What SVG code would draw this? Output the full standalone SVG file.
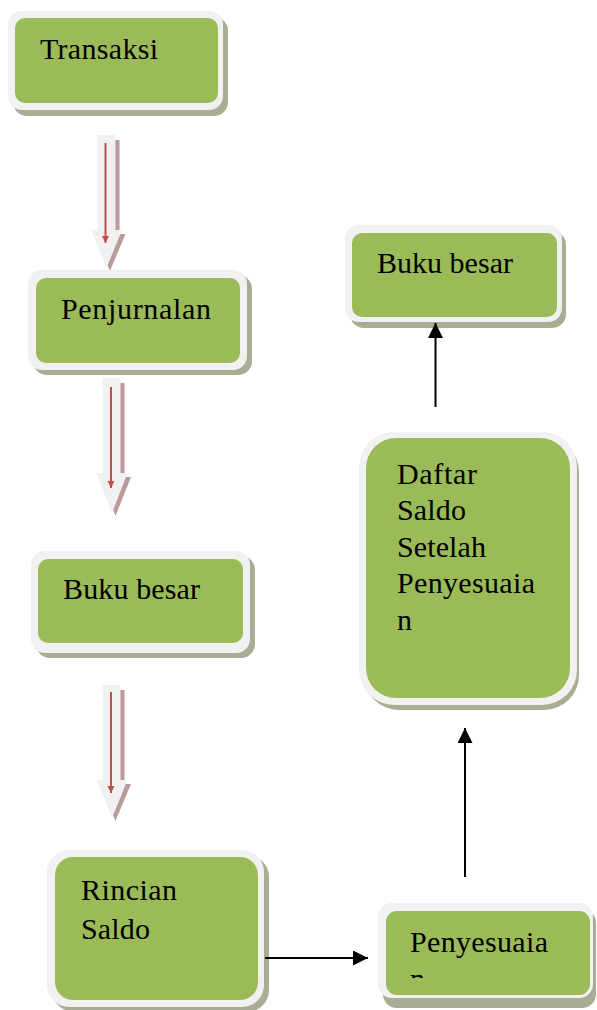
<svg xmlns="http://www.w3.org/2000/svg" width="597" height="1010" viewBox="0 0 597 1010">
<style>
.shadow{fill:#a7ae93}
.outer{fill:#f1f1f1}
.inner{fill:#9bbb59}
.lbl{font-family:"Liberation Serif","Times New Roman",serif;font-size:30px;fill:#000}
.barrow{fill:#f1f1f1}
.bshadow{fill:#bb9a9a}
.red{stroke:#c0504d;stroke-width:2;fill:none}
.conn{stroke:#000;stroke-width:2;fill:none}
</style>
<defs>
<marker id="ah" markerUnits="userSpaceOnUse" markerWidth="16" markerHeight="16" refX="15" refY="7.5" orient="auto">
<path d="M0,0 L15,7.5 L0,15 z" fill="#000"/>
</marker>
<marker id="rh" markerUnits="userSpaceOnUse" markerWidth="8" markerHeight="8" refX="7" refY="3.5" orient="auto">
<path d="M0,0 L7,3.5 L0,7 z" fill="#c0504d"/>
</marker>
<clipPath id="clipPeny"><rect x="386" y="911" width="204" height="67"/></clipPath>
</defs>

<g id="node-transaksi">
<rect class="shadow" x="13" y="17" width="215" height="99" rx="14"/>
<rect class="outer" x="8" y="11" width="215" height="99" rx="14"/>
<rect class="inner" x="15" y="18" width="203" height="85" rx="10"/>
<text class="lbl" x="40" y="59" textLength="118" lengthAdjust="spacing">Transaksi</text>
</g>

<g id="node-penjurnalan">
<rect class="shadow" x="33" y="275" width="219" height="100" rx="14"/>
<rect class="outer" x="28" y="270" width="219" height="100" rx="14"/>
<rect class="inner" x="36" y="278" width="204" height="85" rx="10"/>
<text class="lbl" x="61" y="319" textLength="150" lengthAdjust="spacing">Penjurnalan</text>
</g>

<g id="node-bukubesar1">
<rect class="shadow" x="36" y="556" width="219" height="102" rx="14"/>
<rect class="outer" x="31" y="551" width="219" height="102" rx="14"/>
<rect class="inner" x="38" y="559" width="205" height="84" rx="10"/>
<text class="lbl" x="63" y="599" textLength="137" lengthAdjust="spacing">Buku besar</text>
</g>

<g id="node-rincian">
<rect class="shadow" x="52" y="855" width="217" height="157" rx="22"/>
<rect class="outer" x="47" y="850" width="217" height="157" rx="22"/>
<rect class="inner" x="55" y="857" width="203" height="143" rx="18"/>
<text class="lbl" x="81" y="900" textLength="96" lengthAdjust="spacing">Rincian</text>
<text class="lbl" x="81" y="939" textLength="69" lengthAdjust="spacing">Saldo</text>
</g>

<g id="node-penyesuaian">
<rect class="shadow" x="383" y="909" width="213" height="99" rx="14"/>
<rect class="outer" x="378" y="903" width="215" height="95" rx="14"/>
<rect class="inner" x="386" y="911" width="204" height="84" rx="11"/>
<g clip-path="url(#clipPeny)">
<text class="lbl" x="410" y="952" textLength="138" lengthAdjust="spacing">Penyesuaia</text>
<text class="lbl" x="410" y="989">n</text>
</g>
</g>

<g id="node-daftar">
<rect class="shadow" x="364" y="437" width="215" height="273" rx="35"/>
<rect class="outer" x="359" y="432" width="218" height="273" rx="35"/>
<rect class="inner" x="366" y="438" width="204" height="260" rx="30"/>
<text class="lbl" x="397" y="484" textLength="80" lengthAdjust="spacing">Daftar</text>
<text class="lbl" x="397" y="520" textLength="69" lengthAdjust="spacing">Saldo</text>
<text class="lbl" x="397" y="557" textLength="89" lengthAdjust="spacing">Setelah</text>
<text class="lbl" x="397" y="593" textLength="138" lengthAdjust="spacing">Penyesuaia</text>
<text class="lbl" x="397" y="630">n</text>
</g>

<g id="node-bukubesar2">
<rect class="shadow" x="350" y="231" width="216" height="97" rx="14"/>
<rect class="outer" x="345" y="225" width="217" height="97" rx="14"/>
<rect class="inner" x="352" y="233" width="205" height="84" rx="10"/>
<text class="lbl" x="377" y="273" textLength="136" lengthAdjust="spacing">Buku besar</text>
</g>

<g id="connectors">
<g id="block-arrow-1">
<path class="bshadow" d="M101.5,140 H119.5 V234 H125.5 L110,271 L94.5,234 H101.5 Z"/>
<path class="barrow" d="M97.5,135 H115.5 V230 H122 L106.5,268 L91,230 H97.5 Z"/>
<line class="red" x1="105.5" y1="143" x2="105.5" y2="243" marker-end="url(#rh)"/>
</g>
<g id="block-arrow-2">
<path class="bshadow" d="M106.5,383 H124.5 V477 H131 L115.5,516 L100,477 H106.5 Z"/>
<path class="barrow" d="M102.5,378 H120.5 V473 H127.5 L112,513 L96.5,473 H102.5 Z"/>
<line class="red" x1="111" y1="387" x2="111" y2="488" marker-end="url(#rh)"/>
</g>
<g id="block-arrow-3">
<path class="bshadow" d="M106.5,690 H124.5 V784 H131 L115.5,821 L100,784 H106.5 Z"/>
<path class="barrow" d="M102.5,685 H120.5 V780 H127.5 L112,818 L96.5,780 H102.5 Z"/>
<line class="red" x1="111" y1="692" x2="111" y2="793" marker-end="url(#rh)"/>
</g>
<line class="conn" x1="265" y1="958" x2="368" y2="958" marker-end="url(#ah)"/>
<line class="conn" x1="465" y1="877" x2="465" y2="728" marker-end="url(#ah)"/>
<line class="conn" x1="435.5" y1="407" x2="435.5" y2="323" marker-end="url(#ah)"/>
</g>
</svg>
